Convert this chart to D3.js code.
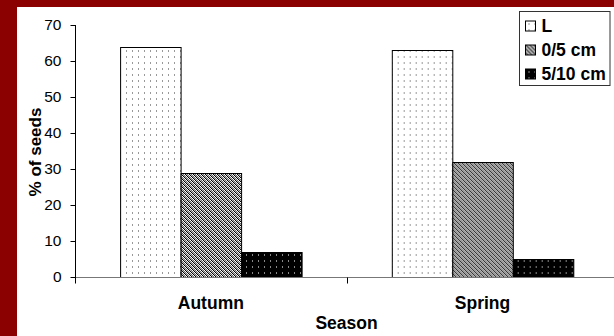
<!DOCTYPE html>
<html>
<head>
<meta charset="utf-8">
<script src="https://cdn.jsdelivr.net/npm/d3@7"></script>
<style>
  html, body { margin: 0; padding: 0; background: #8b0000; }
  svg { display: block; }
  text { font-family: "Liberation Sans", Arial, sans-serif; fill: #000; }
</style>
</head>
<body>
<svg id="chart" width="614" height="336"></svg>
<script>
// Seed distribution by season and burial depth
const seasons = ["Autumn", "Spring"];
const depths = ["L", "0/5 cm", "5/10 cm"];
const autumnValues = [64, 29, 7];
const springValues = [63, 32, 5];
const yTicks = [0, 10, 20, 30, 40, 50, 60, 70];

const rows = seasons.map((s, i) => ({
  season: s,
  values: (i === 0 ? autumnValues : springValues).map((v, j) => ({ depth: depths[j], value: v }))
}));

const svg = d3.select("#chart");

// frame: dark red border with white drawing area
svg.append("rect").attr("x", 0).attr("y", 0).attr("width", 614).attr("height", 336).attr("fill", "#8b0000");
svg.append("rect").attr("x", 17).attr("y", 7).attr("width", 597).attr("height", 329).attr("fill", "#fff");

// fill patterns for the three depths
const defs = svg.append("defs");
const pDots = defs.append("pattern").attr("id", "pat-l").attr("patternUnits", "userSpaceOnUse")
  .attr("width", 6).attr("height", 6);
pDots.append("rect").attr("width", 6).attr("height", 6).attr("fill", "#fff");
pDots.append("rect").attr("x", 3).attr("y", 2).attr("width", 1).attr("height", 2).attr("fill", "#999");

// fine checker with diagonal banding
const pHatch = defs.append("pattern").attr("id", "pat-h").attr("patternUnits", "userSpaceOnUse")
  .attr("width", 4).attr("height", 4);
pHatch.append("rect").attr("width", 4).attr("height", 4).attr("fill", "#fff");
for (let yy = 0; yy < 4; yy++) {
  for (let xx = 0; xx < 4; xx++) {
    let c = null;
    if ((xx + yy) % 2 === 0) c = ((xx - yy + 8) % 4 === 0) ? "#000" : "#666";
    else if ((xx - yy + 8) % 4 === 1) c = "#bbb";
    if (c) pHatch.append("rect").attr("x", xx).attr("y", yy).attr("width", 1).attr("height", 1).attr("fill", c);
  }
}

const pDark = defs.append("pattern").attr("id", "pat-d").attr("patternUnits", "userSpaceOnUse")
  .attr("width", 6).attr("height", 6);
pDark.append("rect").attr("width", 6).attr("height", 6).attr("fill", "#000");
pDark.append("rect").attr("x", 3).attr("y", 2).attr("width", 1).attr("height", 2).attr("fill", "#888");

const fills = d3.scaleOrdinal().domain(depths).range(["url(#pat-l)", "url(#pat-h)", "url(#pat-d)"]);

// scales
const plotLeft = 75, plotRight = 618.4, plotTop = 25, plotBottom = 277;
const x0 = d3.scaleBand().domain(seasons).range([plotLeft, plotRight]).padding(0);
const bw = x0.bandwidth();
const x1 = d3.scaleBand().domain(depths).range([bw * 0.166, bw * 0.834]).padding(0);
const y = d3.scaleLinear().domain([0, 70]).range([plotBottom, plotTop]);

// bars
const groups = svg.append("g").selectAll("g").data(rows).join("g")
  .attr("transform", d => `translate(${x0(d.season)},0)`);
groups.selectAll("rect").data(d => d.values).join("rect")
  .attr("x", d => x1(d.depth) + 0.5)
  .attr("y", d => Math.round(y(d.value)) + 0.5)
  .attr("width", x1.bandwidth())
  .attr("height", d => plotBottom - Math.round(y(d.value)))
  .attr("fill", d => fills(d.depth))
  .attr("stroke", "#000")
  .attr("stroke-width", 1);

// x axis
const xAxis = svg.append("g").attr("transform", `translate(0,${plotBottom + 0.5})`);
xAxis.append("line").attr("x1", plotLeft).attr("x2", plotRight).attr("stroke", "#777");
const xBounds = seasons.map(s => x0(s)).concat([plotRight]);
xAxis.selectAll("line.tick").data(xBounds).join("line").attr("class", "tick")
  .attr("x1", d => Math.round(d) + 0.5).attr("x2", d => Math.round(d) + 0.5)
  .attr("y1", 0).attr("y2", 6).attr("stroke", "#000");
svg.append("g").selectAll("text").data(seasons).join("text")
  .attr("x", d => x0(d) + bw / 2)
  .attr("y", 309)
  .attr("text-anchor", "middle")
  .attr("font-size", 17.5).attr("font-weight", "bold")
  .text(d => d);

// y axis
const yAxis = svg.append("g").attr("transform", `translate(${plotLeft + 0.5},0)`)
  .call(d3.axisLeft(y).tickValues(yTicks).tickSize(5).tickPadding(9).tickFormat(d3.format("d")));
yAxis.select(".domain").remove();
yAxis.append("line").attr("x1", 0).attr("x2", 0).attr("y1", plotTop).attr("y2", plotBottom + 6).attr("stroke", "#000");
yAxis.selectAll(".tick line").attr("stroke", "#000");
yAxis.selectAll(".tick text")
  .attr("font-family", "Liberation Sans, Arial, sans-serif")
  .attr("font-size", 15.5).attr("fill", "#000");

// axis titles
svg.append("text").attr("x", 346.5).attr("y", 329).attr("text-anchor", "middle")
  .attr("font-size", 17.5).attr("font-weight", "bold").text("Season");
svg.append("text").attr("transform", "translate(40.5,152) rotate(-90)").attr("text-anchor", "middle")
  .attr("font-size", 17).attr("font-weight", "bold").text("% of seeds");

// legend
const legend = svg.append("g").attr("transform", "translate(519.5,11.5)");
legend.append("rect").attr("width", 90.5).attr("height", 74).attr("fill", "#fff")
  .attr("stroke", "#333").attr("stroke-width", 1);
const items = legend.selectAll("g").data(depths).join("g")
  .attr("transform", (d, i) => `translate(6,${9.5 + i * 24})`);
items.append("rect").attr("width", 10).attr("height", 10)
  .attr("fill", d => fills(d)).attr("stroke", "#000");
items.append("text").attr("x", 16).attr("y", 10.5)
  .attr("font-size", 17.5).attr("font-weight", "bold").text(d => d);
</script>
</body>
</html>
